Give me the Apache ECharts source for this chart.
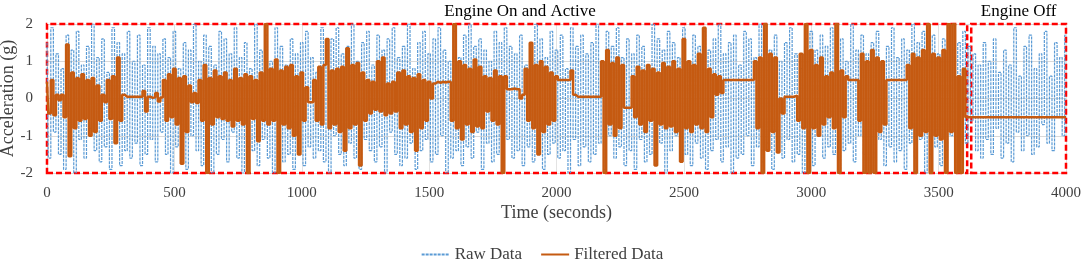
<!DOCTYPE html>
<html>
<head>
<meta charset="utf-8">
<script src="https://cdn.jsdelivr.net/npm/echarts@6/dist/echarts.min.js"></script>
<style>
  html, body { margin: 0; padding: 0; background: #fff; }
  #chart { width: 1084px; height: 264px; }
</style>
</head>
<body>
<div id="chart"></div>
<script>
// samples every 10 s (envelope of each trace)
const sampleStep = 10
const yTicks = [-2, -1, 0, 1, 2]

const rawValues = [
  1.5,-1.6,1.9,-0.9,1.2,-1.5,0.8,-1.9,1.7,-1.2,
  1.3,-2.0,1.8,-1.1,0.9,-1.6,1.4,-0.8,2.0,-1.4,
  1.1,-1.7,1.6,-1.3,0.7,-1.9,1.9,-1.0,1.5,-1.8,
  1.2,-1.4,1.8,-1.6,1.0,-1.2,1.7,-1.8,0.9,-1.5,
  1.9,-1.1,1.4,-1.7,1.2,-0.9,1.6,-1.5,1.1,-2.0,
  1.8,-1.3,0.8,-1.6,1.5,-1.9,1.3,-1.0,2.0,-1.4,
  1.0,-1.8,1.7,-1.2,1.4,-2.0,0.9,-1.5,1.8,-1.1,
  1.6,-1.7,1.2,-0.9,1.9,-1.6,1.1,-2.0,1.5,-1.3,
  0.8,-1.4,2.0,-1.8,1.3,-1.1,1.7,-1.6,1.0,-2.0,
  1.9,-1.2,1.4,-1.7,0.9,-1.5,1.6,-1.9,1.2,-1.0,
  1.5,-1.8,1.8,-1.3,1.1,-1.6,0.7,-1.4,1.9,-1.7,
  1.3,-2.0,1.6,-1.0,1.9,-1.5,1.2,-1.8,1.4,-1.2,
  2.0,-1.6,1.0,-1.9,1.5,-1.1,1.8,-1.4,0.9,-1.7,
  1.7,-1.3,1.3,-2.0,1.6,-0.9,1.9,-1.5,1.1,-1.8,
  1.4,-1.6,2.0,-1.2,0.8,-1.9,1.5,-1.4,1.8,-1.1,
  1.2,-1.7,1.6,-1.5,1.9,-1.0,1.3,-2.0,1.0,-1.6,
  1.8,-1.4,1.1,-1.8,1.7,-1.3,2.0,-1.6,1.4,-0.9,
  1.6,-1.9,1.3,-1.2,1.0,-1.7,1.8,-1.5,1.5,-2.0,
  1.9,-1.1,1.4,-1.6,1.2,-1.4,1.7,-1.8,0.9,-1.3,
  1.5,-1.7,2.0,-1.0,1.6,-1.9,1.1,-1.5,1.8,-1.2,
  1.3,-1.6,1.7,-1.4,0.8,-2.0,1.9,-1.1,1.4,-1.8,
  1.7,-1.3,1.2,-1.7,1.5,-1.5,2.0,-1.2,1.0,-1.9,
  1.8,-1.0,1.4,-1.6,1.9,-1.3,1.1,-1.8,1.6,-1.4,
  1.2,-1.9,1.7,-1.1,1.4,-1.7,0.9,-1.5,2.0,-1.6,
  1.6,-1.2,1.3,-2.0,1.8,-1.4,1.5,-1.0,1.1,-1.7,
  1.9,-1.5,1.0,-1.8,1.7,-1.2,1.4,-1.6,1.8,-1.9,
  1.3,-1.4,1.6,-1.1,2.0,-1.7,1.2,-1.3,1.5,-2.0,
  1.7,-1.6,0.9,-1.5,1.8,-1.0,1.6,-1.8,1.1,-1.3,
  2.0,-1.7,1.4,-1.2,1.3,-1.9,1.7,-1.4,1.0,-1.6,
  1.5,-1.1,1.9,-1.7,1.2,-1.5,0.8,-2.0,1.6,-1.2,
  1.8,-1.8,1.3,-1.0,1.7,-1.6,1.4,-1.3,1.9,-1.5,
  1.1,-1.9,1.6,-1.4,1.0,-1.2,2.0,-1.7,1.3,-1.0,
  1.7,-1.5,1.2,-2.0,1.5,-1.6,1.8,-1.1,0.9,-1.8,
  1.4,-1.3,1.9,-1.7,1.1,-1.4,1.6,-1.9,1.3,-1.2,
  2.0,-1.6,1.5,-1.1,1.8,-2.0,1.0,-1.5,1.7,-1.3,
  1.2,-1.8,1.6,-1.4,1.9,-1.0,1.3,-1.7,1.5,-1.6,
  1.8,-1.2,1.4,-0.6,1.2,-1.4,0.9,-1.6,1.5,-1.1,
  1.0,-1.5,1.6,-0.8,0.7,-1.6,1.3,-1.2,0.9,-1.7,
  1.9,-0.9,0.6,-1.4,1.4,-1.0,1.7,-1.5,0.8,-1.3,
  1.2,-0.7,1.8,-1.2,0.6,-1.4,1.5,-0.5,1.1,-1.0,
  1.7
]

const filteredValues = [
  0.45,-0.4,0.5,-0.45,0.1,-0.05,0.1,-0.5,1.45,-1.55,
  0.7,-0.8,0.55,-0.6,0.65,-0.55,0.5,-1.0,0.55,-0.9,
  0.35,-0.6,0.1,-0.1,0.5,-0.55,0.6,-1.2,1.1,-0.6,
  0.1,0.05,0.05,0.05,0.05,0.05,0.05,0.05,0.2,-0.35,
  0.05,0.02,0.03,0.15,-0.08,0.03,0.5,-0.6,0.65,-0.5,
  0.8,-0.7,0.55,-1.75,0.6,-0.9,0.35,-0.1,0.15,-0.12,
  0.5,-0.6,0.9,-2.0,0.55,-0.7,0.75,-0.5,0.6,-0.55,
  0.7,-0.6,0.5,-0.75,0.8,-0.6,0.55,-0.7,0.65,-2.0,
  0.6,-0.55,0.5,-1.15,0.7,-0.6,2.0,-0.7,0.8,-0.6,
  1.05,-2.0,0.75,-0.7,0.85,-0.8,0.9,-1.0,0.6,-1.5,
  0.7,-0.6,0.3,-0.1,-0.1,0.5,-0.6,0.85,-0.7,0.9,
  1.6,-0.8,0.75,-0.7,0.8,-0.9,0.85,-1.4,1.35,-0.8,
  0.9,-0.7,0.95,-1.8,0.7,-0.6,0.5,-0.4,0.45,-0.3,
  1.0,-0.35,1.1,-0.45,0.4,-0.4,0.45,-0.35,0.7,-0.8,
  0.75,-0.7,0.6,-0.9,0.55,-1.4,0.65,-0.8,0.5,-0.6,
  0.45,0.0,0.4,0.45,0.42,0.45,0.43,0.45,0.45,-0.6,
  2.0,-0.8,1.0,-1.1,0.9,-0.7,0.8,-0.9,1.05,-0.75,
  0.85,-0.8,0.6,-0.35,0.55,-0.6,0.75,-0.7,0.6,-2.0,
  0.6,0.25,0.25,0.27,0.25,0.25,0.0,0.1,0.8,-0.6,
  1.5,-0.8,0.9,-1.5,1.0,-0.9,0.85,-0.7,0.7,-0.6,
  0.6,0.5,0.5,0.5,0.5,0.5,0.75,0.1,0.05,0.05,
  0.05,0.05,0.05,0.05,0.05,0.05,0.05,0.05,1.0,-2.0,
  1.3,-0.7,0.95,-1.0,1.1,-0.8,0.9,-0.25,-0.25,-0.25,
  0.6,-0.5,0.85,-0.7,0.75,-0.9,0.9,-0.6,0.8,-1.8,
  0.7,-0.7,0.95,-0.8,0.85,-0.75,1.0,-0.9,0.8,-1.7,
  1.6,-0.8,1.0,-0.9,0.9,-0.7,1.2,-0.8,1.9,-0.9,
  0.8,-0.5,0.65,0.1,0.6,0.15,0.5,0.5,0.5,0.5,
  0.5,0.5,0.5,0.5,0.5,0.5,0.5,0.5,1.0,-0.8,
  1.1,-2.0,2.0,-1.4,1.2,-0.9,1.1,-1.45,0.0,-0.4,
  0.05,0.05,0.05,0.05,0.08,-0.6,1.2,-0.8,2.0,-2.0,
  1.3,-0.8,0.9,-1.0,1.1,-0.7,0.6,-0.5,0.7,-0.8,
  2.0,-2.0,0.75,-0.5,0.6,0.5,0.5,0.5,0.5,-0.6,
  1.2,-2.0,1.0,-2.0,1.3,-2.0,1.1,-0.9,1.0,-0.7,
  0.5,0.5,0.5,0.5,0.5,0.5,0.5,0.5,0.9,-0.8,
  1.2,-2.0,1.1,-1.0,1.3,-0.9,2.0,-2.0,1.2,-1.0,
  1.1,-1.1,1.3,-2.0,2.0,-0.9,2.0,-2.0,0.6,-2.0,
  0.8,-0.5,-0.5,-0.5,-0.5,-0.5,-0.5,-0.5,-0.5,-0.5,
  -0.5,-0.5,-0.5,-0.5,-0.5,-0.5,-0.5,-0.5,-0.5,-0.5,
  -0.5,-0.5,-0.5,-0.5,-0.5,-0.5,-0.5,-0.5,-0.5,-0.5,
  -0.5,-0.5,-0.5,-0.5,-0.5,-0.5,-0.5,-0.5,-0.5,-0.5,
  -0.5
]

// time spans of the two engine states (s)
const phases = [
  { name: 'Engine On and Active', from: 0, to: 3612 },
  { name: 'Engine Off', from: 3628, to: 4000 }
]

const font = 'Liberation Serif'
const myChart = echarts.init(document.getElementById('chart'), null, { renderer: 'canvas' })

myChart.setOption({
  animation: false,
  backgroundColor: '#fff',
  grid: { left: 47, right: 18, top: 24, bottom: 91, containLabel: false, outerBoundsMode: 'none' },
  legend: {
    data: ['Raw Data', 'Filtered Data'],
    left: 'center',
    top: 241,
    itemWidth: 28,
    itemHeight: 14,
    itemGap: 18,
    itemStyle: { opacity: 0 },
    textStyle: { fontFamily: font, fontSize: 17, color: '#404040' }
  },
  xAxis: {
    type: 'value',
    min: 0,
    max: 4000,
    interval: 500,
    name: 'Time (seconds)',
    nameLocation: 'middle',
    nameGap: 31,
    nameMoveOverlap: false,
    nameTextStyle: { fontFamily: font, fontSize: 18, color: '#404040' },
    axisLine: { show: false },
    axisTick: { show: false },
    axisLabel: { fontFamily: font, fontSize: 15, color: '#404040', margin: 13, formatter: v => String(v) },
    splitLine: { show: true, lineStyle: { color: '#e3e3e3', width: 1 } }
  },
  yAxis: {
    type: 'value',
    min: yTicks[0],
    max: yTicks[yTicks.length - 1],
    interval: 1,
    name: 'Acceleration (g)',
    nameLocation: 'middle',
    nameGap: 30,
    nameRotate: 90,
    nameMoveOverlap: false,
    nameTextStyle: { fontFamily: font, fontSize: 18, color: '#404040' },
    axisLine: { show: false },
    axisTick: { show: false },
    axisLabel: { fontFamily: font, fontSize: 15, color: '#404040', margin: 14 },
    splitLine: { show: true, lineStyle: { color: '#d9d9d9', width: 1 } }
  },
  series: [
    {
      name: 'Raw Data',
      type: 'line',
      symbol: 'none',
      step: 'middle',
      data: rawValues.map((v, i) => [i * sampleStep, v]),
      lineStyle: { color: '#5b9bd5', width: 1.2, type: [3, 1] },
      itemStyle: { color: '#5b9bd5' },
      z: 2
    },
    {
      name: 'Filtered Data',
      type: 'line',
      symbol: 'none',
      step: 'middle',
      data: filteredValues.map((v, i) => [i * sampleStep, v]),
      lineStyle: { color: '#c55a11', width: 2.5 },
      itemStyle: { color: '#c55a11' },
      z: 3
    },
    {
      name: 'phases',
      type: 'line',
      data: [],
      clip: false,
      z: 5,
      markArea: {
        silent: true,
        itemStyle: {
          color: 'rgba(0,0,0,0)',
          borderColor: '#ff0000',
          borderWidth: 2.5,
          borderType: [6, 3]
        },
        label: {
          position: 'top',
          distance: 3,
          fontFamily: font,
          fontSize: 17,
          color: '#000'
        },
        data: phases.map((p, i) => [
          { name: p.name, xAxis: p.from, yAxis: -2, label: { offset: [i === 0 ? 13 : 0, 0] } },
          { xAxis: p.to, yAxis: 2.07 }
        ])
      }
    }
  ]
})
</script>
</body>
</html>
